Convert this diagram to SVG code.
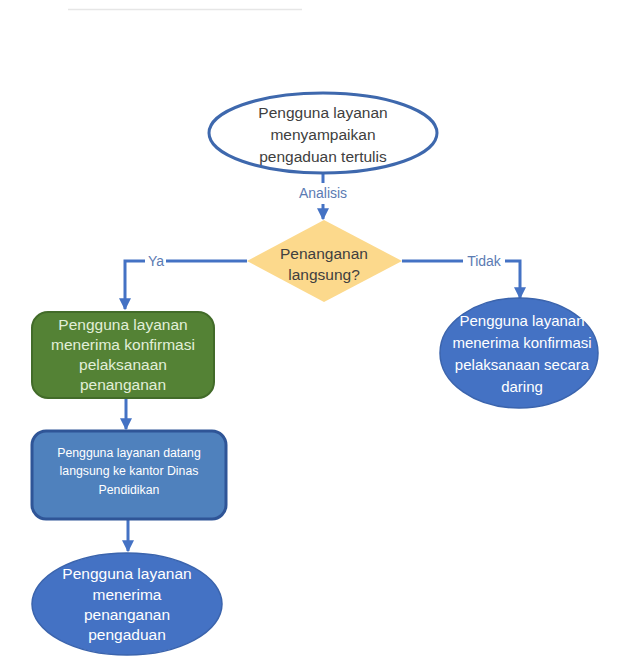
<svg xmlns="http://www.w3.org/2000/svg" width="624" height="670" viewBox="0 0 624 670">
<defs>
<marker id="ah" viewBox="0 0 10 10" refX="9" refY="5" markerWidth="4" markerHeight="4" orient="auto" markerUnits="strokeWidth">
<path d="M0,0 L10,5 L0,10 Z" fill="#4472c4"/>
</marker>
<style>
.t{font-family:"Liberation Sans",Arial,sans-serif;font-size:15.5px;text-anchor:middle}
.s{font-family:"Liberation Sans",Arial,sans-serif;font-size:12.3px;text-anchor:middle}
.dk{fill:#404040}
.wt{fill:#ffffff}
.gt{fill:#e2efd9}
.lb{font-family:"Liberation Sans",Arial,sans-serif;font-size:14px;fill:#5b7bb3;text-anchor:middle}
.c{fill:none;stroke:#4472c4;stroke-width:3}
</style>
</defs>
<rect width="624" height="670" fill="#ffffff"/>
<line x1="68" y1="9.5" x2="302" y2="9.5" stroke="#e6e6e6" stroke-width="1.5"/>

<g id="connectors">
<line class="c" x1="323" y1="173" x2="323" y2="183"/>
<line class="c" x1="323" y1="204" x2="323" y2="219" marker-end="url(#ah)"/>
<path class="c" d="M247,261 H166 M145,261 H125 V309" marker-end="url(#ah)"/>
<path class="c" d="M402,261 H463 M505,261 H520 V298" marker-end="url(#ah)"/>
<line class="c" x1="126" y1="398" x2="126" y2="429" marker-end="url(#ah)"/>
<line class="c" x1="128" y1="519" x2="128" y2="551" marker-end="url(#ah)"/>
<text class="lb" x="323" y="198">Analisis</text>
<text class="lb" x="156" y="266">Ya</text>
<text class="lb" x="484" y="266">Tidak</text>
</g>

<g id="start">
<ellipse cx="323" cy="133" rx="114" ry="40" fill="#ffffff" stroke="#3e68ad" stroke-width="3"/>
<text class="t dk" x="323" y="118">Pengguna layanan</text>
<text class="t dk" x="323" y="140">menyampaikan</text>
<text class="t dk" x="323" y="162">pengaduan tertulis</text>
</g>

<g id="decision">
<polygon points="324,220 402,261 324,302 247,261" fill="#fcd98c"/>
<text class="t dk" x="324" y="259">Penanganan</text>
<text class="t dk" x="324" y="280">langsung?</text>
</g>

<g id="confirm-direct">
<rect x="32" y="312" width="182" height="86" rx="16" fill="#548235" stroke="#426b29" stroke-width="2"/>
<text class="t gt" x="123" y="330">Pengguna layanan</text>
<text class="t gt" x="123" y="350">menerima konfirmasi</text>
<text class="t gt" x="123" y="370">pelaksanaan</text>
<text class="t gt" x="123" y="390">penanganan</text>
</g>

<g id="confirm-online">
<ellipse cx="519" cy="353" rx="79" ry="55" fill="#4472c4" stroke="#3b64ad" stroke-width="1.5"/>
<text class="t wt" x="522" y="326" style="font-size:15px">Pengguna layanan</text>
<text class="t wt" x="522" y="348" style="font-size:15px">menerima konfirmasi</text>
<text class="t wt" x="522" y="370" style="font-size:15px">pelaksanaan secara</text>
<text class="t wt" x="522" y="392" style="font-size:15px">daring</text>
</g>

<g id="visit">
<rect x="32" y="431" width="194" height="88" rx="14" fill="#4f81bd" stroke="#2f5597" stroke-width="3"/>
<text class="s wt" x="129" y="457">Pengguna layanan datang</text>
<text class="s wt" x="129" y="475">langsung ke kantor Dinas</text>
<text class="s wt" x="129" y="494">Pendidikan</text>
</g>

<g id="handled">
<ellipse cx="127" cy="604" rx="95" ry="51" fill="#4472c4" stroke="#3b64ad" stroke-width="1.5"/>
<text class="t wt" x="127" y="579">Pengguna layanan</text>
<text class="t wt" x="127" y="600">menerima</text>
<text class="t wt" x="127" y="620">penanganan</text>
<text class="t wt" x="127" y="640">pengaduan</text>
</g>
</svg>
